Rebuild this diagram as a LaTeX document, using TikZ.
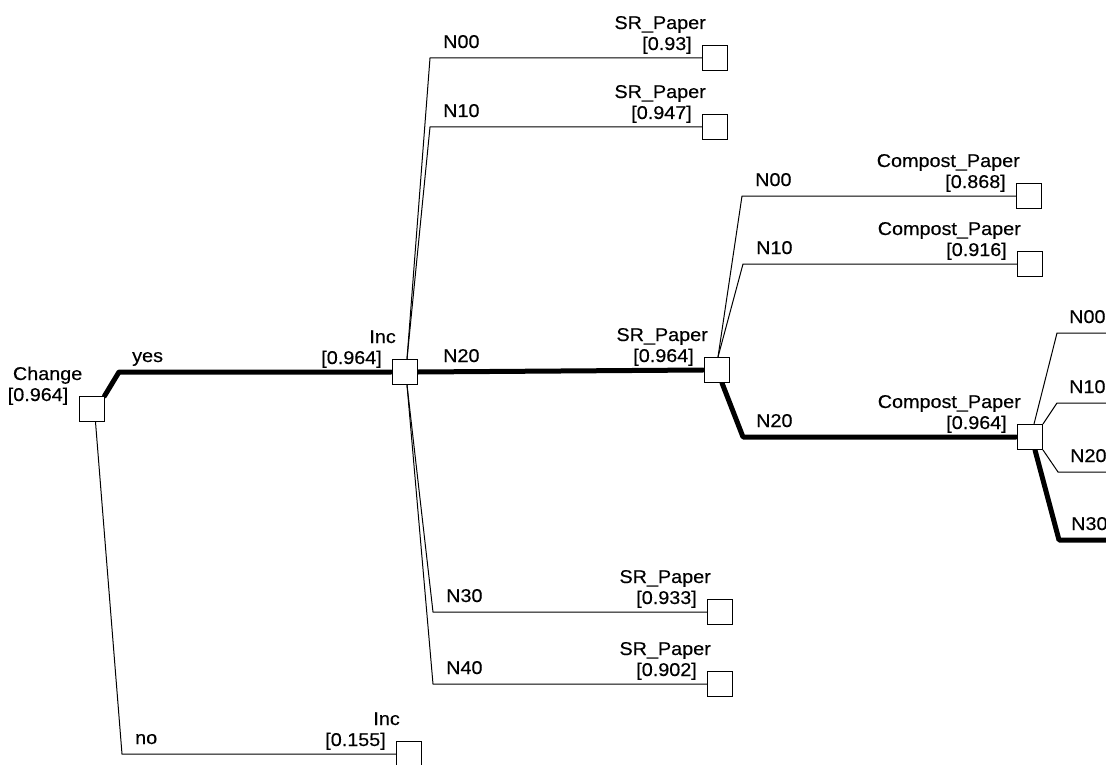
\documentclass[tikz,border=0pt]{standalone}
\usepackage{fontspec}
\setmainfont{Liberation Sans}[FakeStretch=1.07,FakeBold=0.4]
\usetikzlibrary{backgrounds}
\begin{document}
\begin{tikzpicture}[x=1pt,y=-1pt,
  dbox/.style={draw, fill=white, minimum size=25pt, inner sep=0pt, line width=1pt},
  lbl/.style={font=\fontsize{18.5}{21}\selectfont, inner sep=0pt},
  ttl/.style={lbl, anchor=base east, xshift=4pt, yshift=29pt},
  val/.style={lbl, anchor=base east, xshift=-10pt, yshift=8pt},
  brl/.style={lbl, anchor=base west, xshift=13pt, yshift=10pt},
  thinln/.style={line width=1pt},
  thickln/.style={line width=5pt, line cap=round, line join=round}]
\useasboundingbox (0,0) rectangle (1106,765);
\clip (0,0) rectangle (1106,765);
% decision boxes
\node[dbox] (chg) at (91.5,409) {};
\node[dbox] (inc1) at (405,372) {};
\node[dbox] (inc2) at (409,754) {};
\node[dbox] (sr1) at (715,58) {};
\node[dbox] (sr2) at (715,127) {};
\node[dbox] (sr3) at (717,370) {};
\node[dbox] (sr4) at (720,612) {};
\node[dbox] (sr5) at (720,684) {};
\node[dbox] (cp1) at (1029,196) {};
\node[dbox] (cp2) at (1030,264) {};
\node[dbox] (cp3) at (1030,437) {};
% titles and values
\node[ttl] (chgT) at (chg.west) {Change};
\node[val] (chgV) at (chg.west) {[0.964]};
\node[ttl] (inc1T) at (inc1.west) {Inc};
\node[val] (inc1V) at (inc1.west) {[0.964]};
\node[ttl] (inc2T) at (inc2.west) {Inc};
\node[val] (inc2V) at (inc2.west) {[0.155]};
\node[ttl] (sr1T) at (sr1.west) {SR\_Paper};
\node[val] (sr1V) at (sr1.west) {[0.93]};
\node[ttl] (sr2T) at (sr2.west) {SR\_Paper};
\node[val] (sr2V) at (sr2.west) {[0.947]};
\node[ttl] (sr3T) at (sr3.west) {SR\_Paper};
\node[val] (sr3V) at (sr3.west) {[0.964]};
\node[ttl] (sr4T) at (sr4.west) {SR\_Paper};
\node[val] (sr4V) at (sr4.west) {[0.933]};
\node[ttl] (sr5T) at (sr5.west) {SR\_Paper};
\node[val] (sr5V) at (sr5.west) {[0.902]};
\node[ttl] (cp1T) at (cp1.west) {Compost\_Paper};
\node[val] (cp1V) at (cp1.west) {[0.868]};
\node[ttl] (cp2T) at (cp2.west) {Compost\_Paper};
\node[val] (cp2V) at (cp2.west) {[0.916]};
\node[ttl] (cp3T) at (cp3.west) {Compost\_Paper};
\node[val] (cp3V) at (cp3.west) {[0.964]};
% branch corners
\coordinate (kyes) at (119,372);
\coordinate (kno) at (122,754);
\coordinate (ki00) at (430,58);
\coordinate (ki10) at (430,127);
\coordinate (ki20) at (430,372);
\coordinate (ki30) at (433,612);
\coordinate (ki40) at (433,684);
\coordinate (ks00) at (742,196);
\coordinate (ks10) at (743,264);
\coordinate (ks20) at (743,437);
\coordinate (kc00) at (1057,333);
\coordinate (kc10) at (1057,403);
\coordinate (kc20) at (1058,472);
\coordinate (kc30) at (1059,540);
\coordinate (ec00) at (1110,333);
\coordinate (ec10) at (1110,403);
\coordinate (ec20) at (1110,472);
\coordinate (ec30) at (1110,540);
% branch labels
\node[brl] (lyes) at (kyes) {yes};
\node[brl] (lno) at (kno) {no};
\node[brl] (li00) at (ki00) {N00};
\node[brl] (li10) at (ki10) {N10};
\node[brl] (li20) at (ki20) {N20};
\node[brl] (li30) at (ki30) {N30};
\node[brl] (li40) at (ki40) {N40};
\node[brl] (ls00) at (ks00) {N00};
\node[brl] (ls10) at (ks10) {N10};
\node[brl] (ls20) at (ks20) {N20};
\node[brl, xshift=-1pt] (lc00) at (kc00) {N00};
\node[brl, xshift=-1pt] (lc10) at (kc10) {N10};
\node[brl, xshift=-1pt] (lc20) at (kc20) {N20};
\node[brl, xshift=-1pt] (lc30) at (kc30) {N30};
% connectors
\begin{scope}[on background layer]
\draw[thickln] (chg.north east) -- (kyes) -- ([xshift=-1pt]inc1.west);
\draw[thinln] ([xshift=4pt]chg.south) -- (kno) -- (inc2.west);
\draw[thinln] ([xshift=2pt]inc1.north) -- (ki00) -- (sr1.west);
\draw[thinln] ([xshift=2pt]inc1.north) -- (ki10) -- (sr2.west);
\draw[thickln] (inc1.east) -- ([xshift=-1pt]sr3.west);
\draw[thinln] ([xshift=2pt]inc1.south) -- (ki30) -- (sr4.west);
\draw[thinln] ([xshift=2pt]inc1.south) -- (ki40) -- (sr5.west);
\draw[thinln] ([xshift=1pt]sr3.north) -- (ks00) -- (cp1.west);
\draw[thinln] ([xshift=1pt]sr3.north) -- (ks10) -- (cp2.west);
\draw[thickln] ([xshift=5pt]sr3.south) -- (ks20) -- ([xshift=-1pt]cp3.west);
\draw[thinln] ([xshift=4pt]cp3.north) -- (kc00) -- (ec00);
\draw[thinln] (cp3.north east) -- (kc10) -- (ec10);
\draw[thinln] (cp3.south east) -- (kc20) -- (ec20);
\draw[thickln] ([xshift=5pt]cp3.south) -- (kc30) -- (ec30);
\end{scope}
\end{tikzpicture}
\end{document}
